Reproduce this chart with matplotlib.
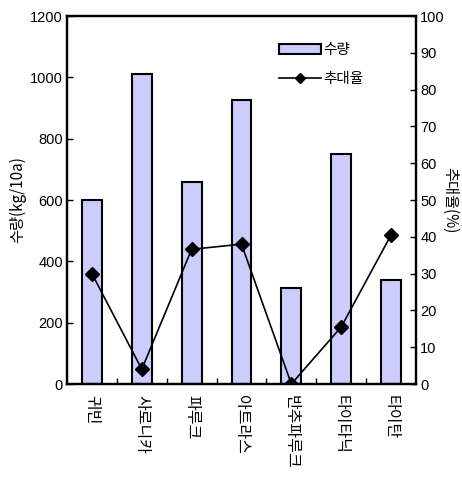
import matplotlib
matplotlib.use("Agg")
import matplotlib.pyplot as plt
import numpy as np

plt.rcParams['font.family'] = ['Liberation Sans', 'Noto Sans CJK KR', 'DejaVu Sans']

categories = ['귀빈', '사로니카', '파루크', '아트라스', '반추파루크', '타이타닉', '타이탄']
yield_vals = [600, 1011, 658, 926, 314, 751, 340]
rate_vals = [30, 4, 36.6, 38, 0, 15.5, 40.5]

fig = plt.figure(figsize=(4.62, 4.79), dpi=100)
ax = fig.add_axes([67/462, 1-384/479, (416-67)/462, (384-16)/479])
ax2 = ax.twinx()

x = np.arange(len(categories))
bars = ax.bar(x, yield_vals, width=0.4, color='#CCCCFF', edgecolor='black',
              linewidth=1.5, label='수량', zorder=2)
line, = ax2.plot(x, rate_vals, color='black', linewidth=1.2, marker='D',
                 markersize=7, markerfacecolor='black', label='추대율', zorder=3)

ax.set_xlim(-0.5, len(categories) - 0.5)
ax.set_ylim(0, 1200)
ax2.set_ylim(0, 100)
ax.set_yticks(np.arange(0, 1201, 200))
ax2.set_yticks(np.arange(0, 101, 10))

ax.set_xticks(x)
ax.set_xticklabels(categories, rotation=270, fontsize=11.5,
                   family=['Noto Sans CJK KR'], va='top', ha='center')
ax.set_xticks(np.arange(0.5, len(categories) - 1, 1), minor=True)
ax.tick_params(axis='x', which='major', length=0, pad=8)
ax.tick_params(axis='x', which='minor', direction='in', length=4, width=1)
ax.tick_params(axis='y', direction='in', length=4, width=1, labelsize=10.5, pad=3)
ax2.tick_params(axis='y', direction='in', length=4, width=1, labelsize=10.5, pad=3)

for a in (ax, ax2):
    for s in a.spines.values():
        s.set_linewidth(1.6)

ax.set_ylabel('수량(kg/10a)', fontsize=11, family=['Noto Sans CJK KR'], labelpad=3)
ax2.set_ylabel('추대율(%)', fontsize=11, family=['Noto Sans CJK KR'],
               rotation=270, labelpad=10)

fig.legend([bars, line], ['수량', '추대율'], loc='upper left',
           bbox_to_anchor=(266/462, 1-30/479), frameon=False,
           prop={'family': 'Noto Sans CJK KR', 'size': 10.5},
           handlelength=2.9, handletextpad=0.15, labelspacing=1.0,
           handleheight=0.7, markerscale=0.75)

fig.savefig('out.png', dpi=100)
